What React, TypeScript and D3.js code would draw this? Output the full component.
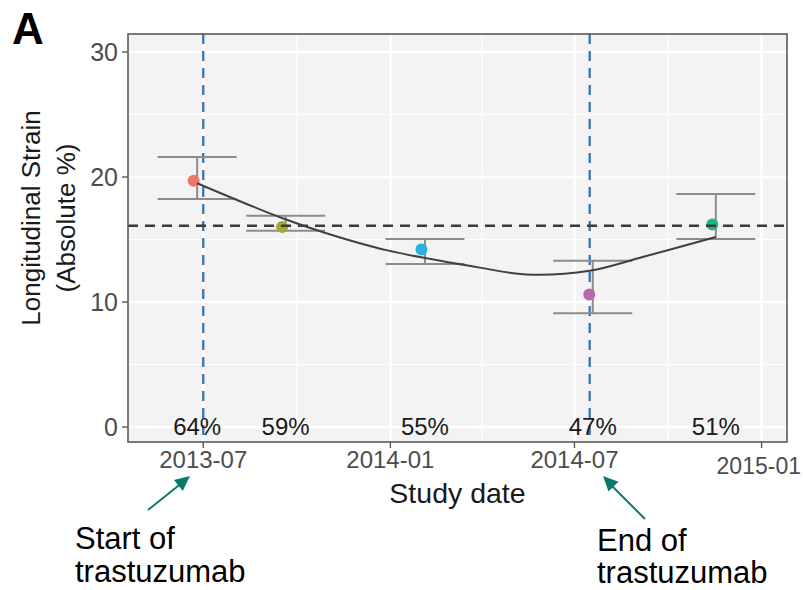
import React from "react";
import * as d3 from "d3";

// ---- data ----
const studyDates = ["2013-06-25", "2013-09-20", "2014-02-04", "2014-07-19", "2014-11-17"];
const strainValues = [19.7, 16.0, 14.2, 10.6, 16.2];
const strainLow = [18.25, 15.7, 13.05, 9.1, 15.05];
const strainHigh = [21.6, 16.9, 15.05, 13.3, 18.65];
const efLabels = ["64%", "59%", "55%", "47%", "51%"];
const pointColors = ["#EE746C", "#A7A634", "#2BAEE0", "#B869AE", "#1FB87C"];

const smoothDates = ["2013-06-25", "2013-08-02", "2013-09-17", "2013-10-30", "2013-12-28", "2014-03-30", "2014-05-15", "2014-07-16", "2014-09-06", "2014-11-17"];
const smoothValues = [19.5, 18.2, 16.7, 15.5, 14.15, 12.75, 12.2, 12.5, 13.6, 15.2];

const referenceValue = 16.1;
const treatmentDates = ["2013-07-01", "2014-07-16"];

const xTickDates = ["2013-07-01", "2014-01-01", "2014-07-01", "2015-01-01"];
const xTickLabels = ["2013-07", "2014-01", "2014-07", "2015-01"];
const xMinorDates = ["2013-10-01", "2014-04-01", "2014-10-01"];
const yTicks = [0, 10, 20, 30];
const yMinor = [5, 15, 25];

const xDomain = ["2013-04-18", "2015-01-26"];
const yDomain = [-1.2, 31.44];

const parse = d3.utcParse("%Y-%m-%d");
const FONT = "'Liberation Sans', Arial, Helvetica, sans-serif";

export default function App() {
  const W = 803, H = 590;
  const panel = { left: 128, right: 787, top: 34, bottom: 442 };
  const x = d3.scaleUtc().domain(xDomain.map((d) => parse(d) as Date)).range([panel.left, panel.right]);
  const y = d3.scaleLinear().domain(yDomain).range([panel.bottom, panel.top]);

  const smooth = d3
    .line<[Date, number]>()
    .x((d) => x(d[0]))
    .y((d) => y(d[1]))
    .curve(d3.curveCatmullRom.alpha(0.5));
  const smoothData: [Date, number][] = smoothDates.map((d, i) => [parse(d) as Date, smoothValues[i]]);

  const capHalf = 39.5;
  const pointOffset = -3.5;
  const axisGrey = "#4D4D4D";

  const arrowHead = (tx: number, ty: number, fx: number, fy: number) => {
    const ang = Math.atan2(ty - fy, tx - fx);
    const len = 15, half = 7;
    const bx = tx - len * Math.cos(ang), by = ty - len * Math.sin(ang);
    const px = -Math.sin(ang) * half, py = Math.cos(ang) * half;
    return `${tx},${ty} ${bx + px},${by + py} ${bx - px},${by - py}`;
  };
  const teal = "#0B7A6A";

  return (
    <svg width={W} height={H} style={{ position: "absolute", left: 0, top: 0, background: "#fff" }} fontFamily={FONT}>
      {/* panel background */}
      <rect x={panel.left} y={panel.top} width={panel.right - panel.left} height={panel.bottom - panel.top} fill="#F3F3F3" />
      {/* minor grid */}
      {yMinor.map((v) => (
        <line key={"ym" + v} x1={panel.left} x2={panel.right} y1={y(v)} y2={y(v)} stroke="#fff" strokeWidth={1.2} />
      ))}
      {xMinorDates.map((d) => (
        <line key={"xm" + d} x1={x(parse(d) as Date)} x2={x(parse(d) as Date)} y1={panel.top} y2={panel.bottom} stroke="#fff" strokeWidth={1.2} />
      ))}
      {/* major grid */}
      {yTicks.map((v) => (
        <line key={"yg" + v} x1={panel.left} x2={panel.right} y1={y(v)} y2={y(v)} stroke="#fff" strokeWidth={2.4} />
      ))}
      {xTickDates.map((d) => (
        <line key={"xg" + d} x1={x(parse(d) as Date)} x2={x(parse(d) as Date)} y1={panel.top} y2={panel.bottom} stroke="#fff" strokeWidth={2.4} />
      ))}

      {/* treatment lines */}
      {treatmentDates.map((d) => (
        <line key={"tr" + d} x1={x(parse(d) as Date)} x2={x(parse(d) as Date)} y1={panel.top} y2={panel.bottom} stroke="#3F79AE" strokeWidth={2.4} strokeDasharray="10,7" />
      ))}

      {/* error bars */}
      {studyDates.map((d, i) => {
        const cx = x(parse(d) as Date);
        return (
          <g key={"eb" + i} stroke="#8C8C8C" strokeWidth={2}>
            <line x1={cx} x2={cx} y1={y(strainLow[i])} y2={y(strainHigh[i])} />
            <line x1={cx - capHalf} x2={cx + capHalf} y1={y(strainLow[i])} y2={y(strainLow[i])} />
            <line x1={cx - capHalf} x2={cx + capHalf} y1={y(strainHigh[i])} y2={y(strainHigh[i])} />
          </g>
        );
      })}

      {/* points */}
      {studyDates.map((d, i) => (
        <circle key={"pt" + i} cx={x(parse(d) as Date) + pointOffset} cy={y(strainValues[i])} r={6} fill={pointColors[i]} />
      ))}

      {/* reference line */}
      <line x1={panel.left} x2={panel.right} y1={y(referenceValue)} y2={y(referenceValue)} stroke="#3A3A3A" strokeWidth={2.4} strokeDasharray="10,7" />

      {/* smooth */}
      <path d={smooth(smoothData) || ""} fill="none" stroke="#404040" strokeWidth={2} />

      {/* percentage labels */}
      {studyDates.map((d, i) => (
        <text key={"lab" + i} x={x(parse(d) as Date)} y={y(0)} dy="0.33em" textAnchor="middle" fontSize={24} fill="#1A1A1A">
          {efLabels[i]}
        </text>
      ))}

      {/* panel border */}
      <rect x={panel.left} y={panel.top} width={panel.right - panel.left} height={panel.bottom - panel.top} fill="none" stroke="#5A5A5A" strokeWidth={1.6} />

      {/* y axis */}
      {yTicks.map((v) => (
        <g key={"yt" + v}>
          <line x1={panel.left - 6} x2={panel.left} y1={y(v)} y2={y(v)} stroke="#5A5A5A" strokeWidth={1.4} />
          <text x={panel.left - 10} y={y(v)} dy="0.36em" textAnchor="end" fontSize={25} fill={axisGrey}>
            {v}
          </text>
        </g>
      ))}
      {/* x axis */}
      {xTickDates.map((d, i) => {
        const last = i === xTickDates.length - 1;
        return (
          <g key={"xt" + d}>
            <line x1={x(parse(d) as Date)} x2={x(parse(d) as Date)} y1={panel.bottom} y2={panel.bottom + 6} stroke="#5A5A5A" strokeWidth={1.4} />
            <text
              x={last ? W - 2 : x(parse(d) as Date)}
              y={last ? 474 : 468}
              textAnchor={last ? "end" : "middle"}
              fontSize={last ? 23 : 24}
              fill={axisGrey}
            >
              {xTickLabels[i]}
            </text>
          </g>
        );
      })}

      {/* axis titles */}
      <text x={(panel.left + panel.right) / 2} y={503} textAnchor="middle" fontSize={28.5} fill="#1A1A1A">
        Study date
      </text>
      <g transform="translate(0,218) rotate(-90)">
        <text x={0} y={40} textAnchor="middle" fontSize={26} fill="#1A1A1A">Longitudinal Strain</text>
        <text x={0} y={75} textAnchor="middle" fontSize={26} fill="#1A1A1A">(Absolute %)</text>
      </g>

      {/* panel tag */}
      <text x={12} y={44} fontSize={44} fontWeight="bold" fill="#000">A</text>

      {/* annotations */}
      <line x1={148} y1={510} x2={183} y2={482} stroke={teal} strokeWidth={2} />
      <polygon points={arrowHead(190, 476, 148, 510)} fill={teal} />
      <line x1={645} y1={519} x2={608} y2={482} stroke={teal} strokeWidth={2} />
      <polygon points={arrowHead(603, 476, 645, 519)} fill={teal} />

      <text x={75} y={549} fontSize={31} fill="#000">Start of</text>
      <text x={75} y={582} fontSize={31} fill="#000">trastuzumab</text>
      <text x={597} y={551} fontSize={31} fill="#000">End of</text>
      <text x={597} y={583} fontSize={31} fill="#000">trastuzumab</text>
    </svg>
  );
}
